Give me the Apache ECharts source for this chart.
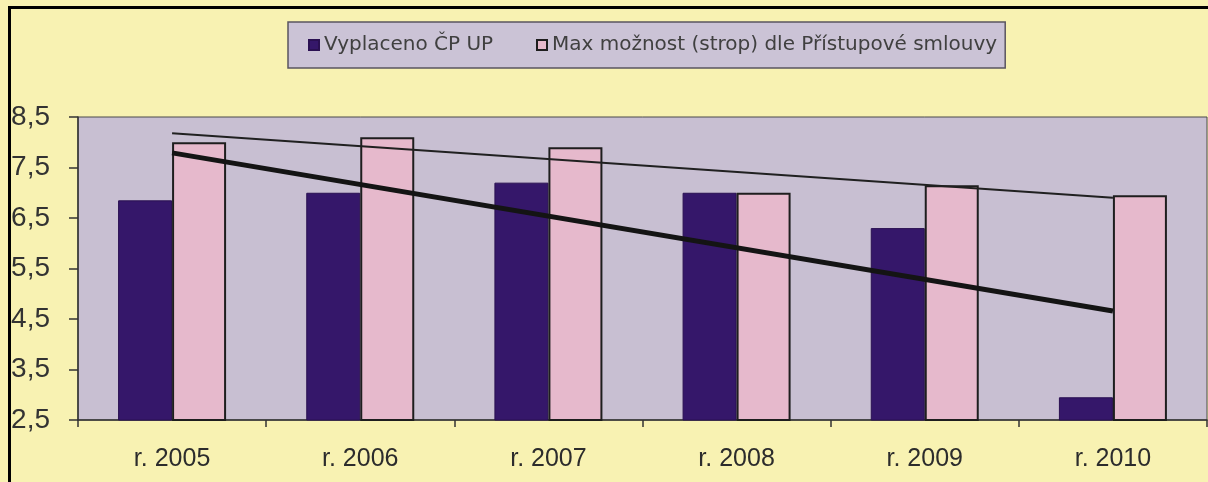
<!DOCTYPE html>
<html>
<head>
<meta charset="utf-8">
<script src="https://cdn.jsdelivr.net/npm/echarts@6/dist/echarts.min.js"></script>
<style>
  html, body { margin: 0; padding: 0; background: #f8f2b2; }
  #chart { width: 1208px; height: 482px; }
</style>
</head>
<body>
<div id="chart"></div>
<script>
// Years on the category axis
const categories = ['r. 2005', 'r. 2006', 'r. 2007', 'r. 2008', 'r. 2009', 'r. 2010'];
// Amounts actually paid out
const paid = [6.85, 7.0, 7.2, 7.0, 6.3, 2.95];
// Ceiling allowed by the accession treaty
const cap = [8.0, 8.1, 7.9, 7.0, 7.15, 6.95];
// Linear trend lines: value at the first and at the last year
const paidTrend = [7.79, 4.66];
const capTrend = [8.18, 6.9];
// Value-axis tick labels
const yTicks = [2.5, 3.5, 4.5, 5.5, 6.5, 7.5, 8.5];

const seriesNames = ['Vyplaceno ČP UP', 'Max možnost (strop) dle Přístupové smlouvy'];

// Trend line spans from the first to the last category
function trendData(ends) {
  return categories.map((c, i) =>
    i === 0 ? ends[0] : (i === categories.length - 1 ? ends[1] : null));
}

const chart = echarts.init(document.getElementById('chart'), null, { renderer: 'canvas' });

chart.setOption({
  backgroundColor: '#f8f2b2',
  animation: false,
  textStyle: { fontFamily: 'Liberation Sans, Arial, sans-serif' },
  graphic: [
    // frame lines along the top and left edges
    { type: 'rect', left: 8, top: 6, shape: { width: 1200, height: 3 }, style: { fill: '#000' } },
    { type: 'rect', left: 8, top: 6, shape: { width: 3, height: 476 }, style: { fill: '#000' } }
  ],
  legend: {
    data: [
      { name: seriesNames[0], textStyle: { width: 186 } },
      { name: seriesNames[1] }
    ],
    left: 288,
    top: 22,
    padding: [12, 8, 12, 20],
    itemGap: 26,
    itemWidth: 10,
    itemHeight: 10,
    icon: 'rect',
    backgroundColor: '#cbc3d6',
    borderColor: '#5a5560',
    borderWidth: 1.5,
    textStyle: { fontFamily: 'DejaVu Sans, sans-serif', fontSize: 20, lineHeight: 22, color: '#404040' }
  },
  grid: {
    left: 78, right: 1, top: 117, bottom: 62,
    show: true,
    backgroundColor: '#c8bfd2',
    borderColor: '#4a4a4a',
    borderWidth: 1
  },
  xAxis: {
    type: 'category',
    data: categories,
    axisLine: { lineStyle: { color: '#333', width: 1.5 } },
    axisTick: { show: true, alignWithLabel: false, length: 7, lineStyle: { color: '#333', width: 1.5 } },
    axisLabel: { fontSize: 25, color: '#2c2c2c', margin: 27 }
  },
  yAxis: {
    type: 'value',
    min: 2.5,
    max: 8.5,
    splitLine: { show: false },
    axisLine: { show: true, lineStyle: { color: '#333', width: 1.5 } },
    axisTick: { show: true, length: 9, customValues: yTicks, lineStyle: { color: '#333', width: 1.5 } },
    axisLabel: {
      customValues: yTicks,
      fontSize: 28,
      color: '#333',
      margin: 28,
      formatter: v => v.toFixed(1).replace('.', ',')
    }
  },
  series: [
    {
      name: seriesNames[0],
      type: 'bar',
      data: paid,
      barWidth: 54,
      barGap: '0%',
      itemStyle: { color: '#35176a', borderColor: '#2a1052', borderWidth: 1 }
    },
    {
      name: seriesNames[1],
      type: 'bar',
      data: cap,
      barWidth: 54,
      itemStyle: { color: '#e6b9cc', borderColor: '#1e1e1e', borderWidth: 2 }
    },
    {
      name: 'trend-paid',
      type: 'line',
      data: trendData(paidTrend),
      connectNulls: true,
      symbol: 'none',
      z: 5,
      lineStyle: { color: '#141414', width: 5 }
    },
    {
      name: 'trend-cap',
      type: 'line',
      data: trendData(capTrend),
      connectNulls: true,
      symbol: 'none',
      z: 5,
      lineStyle: { color: '#202020', width: 2 }
    }
  ]
});
</script>
</body>
</html>
